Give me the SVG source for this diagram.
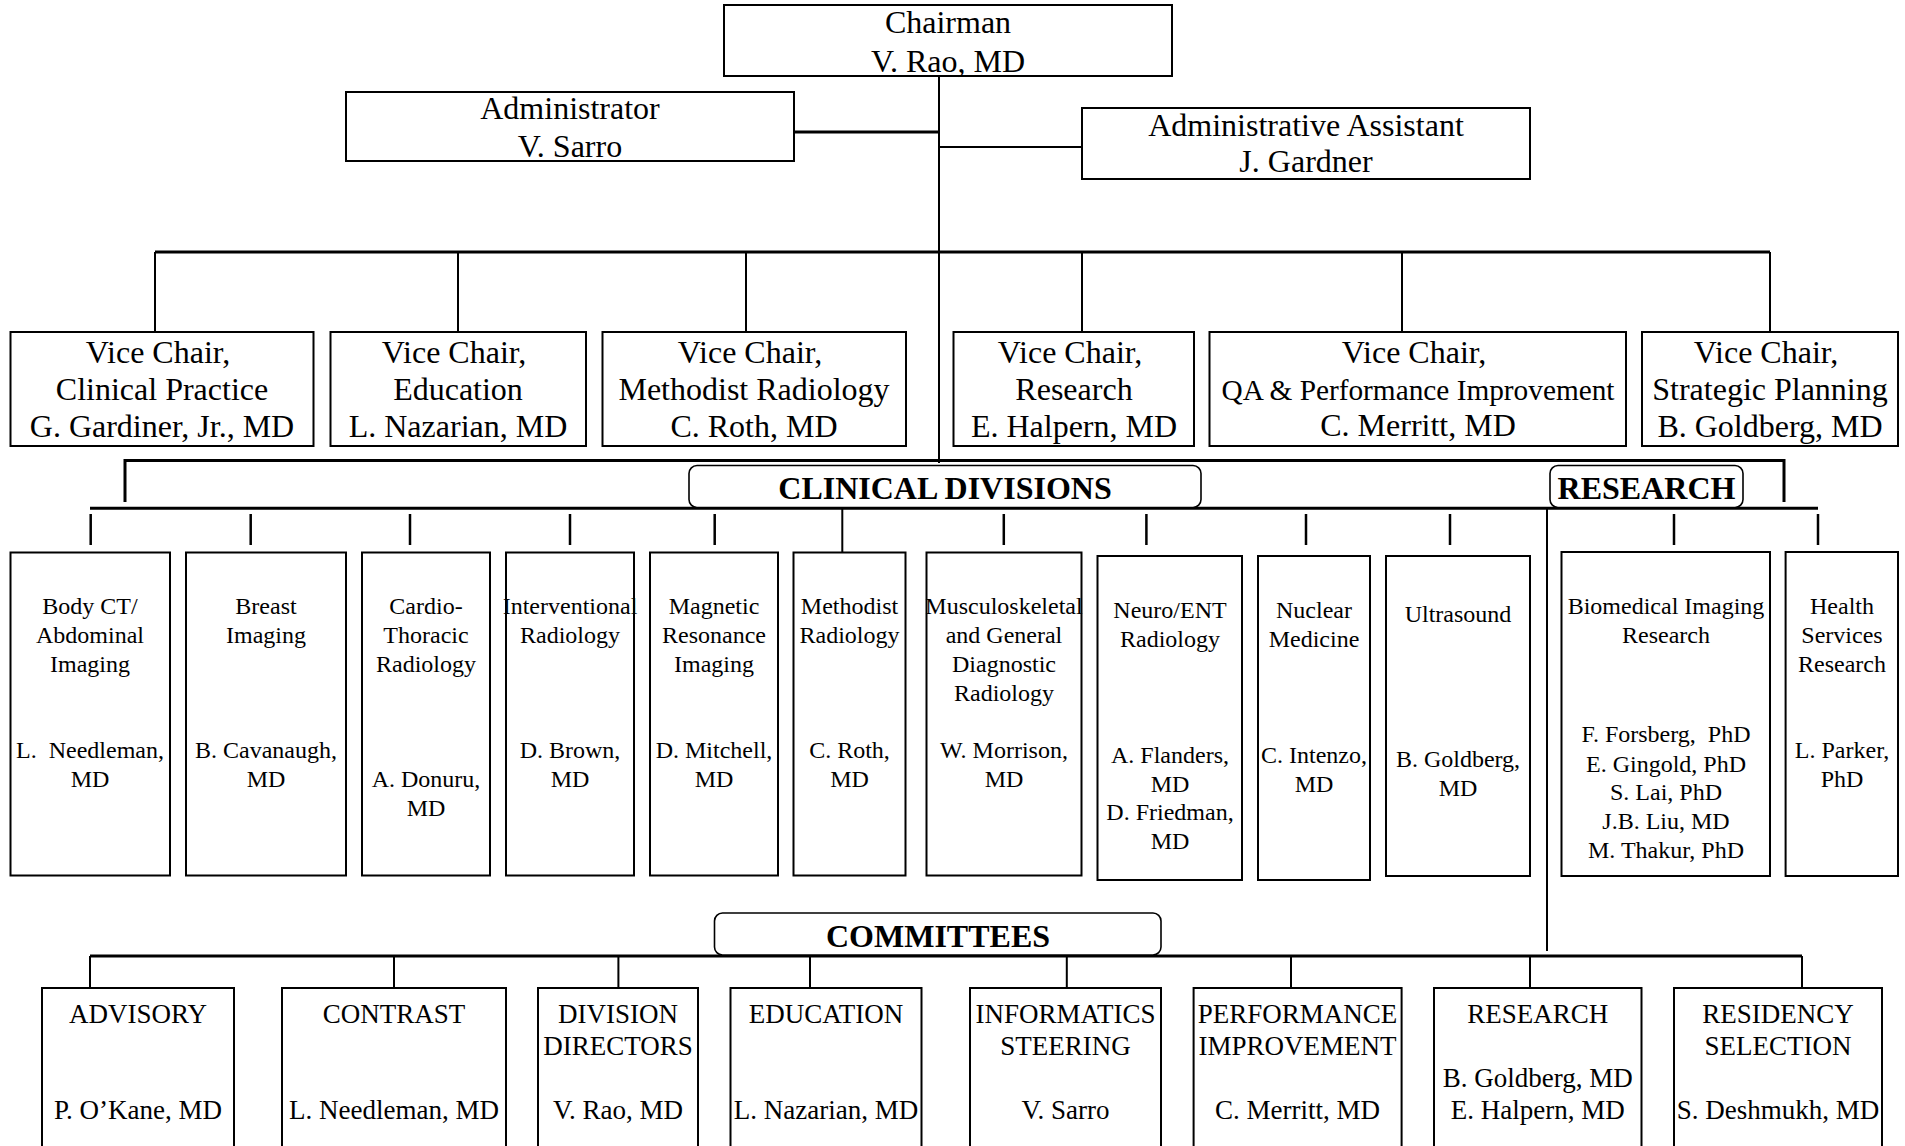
<svg xmlns="http://www.w3.org/2000/svg" width="1905" height="1146" viewBox="0 0 1905 1146">
<style>
.box{fill:#fff;stroke:#000;stroke-width:2}
.lbl{fill:#fff;stroke:#000;stroke-width:1.6}
.bus{stroke:#000;stroke-width:3;fill:none}
.ln{stroke:#000;stroke-width:2;fill:none}
.tk{stroke:#000;stroke-width:2.5;fill:none}
text{font-family:"Liberation Serif","Times New Roman",serif;text-anchor:middle;fill:#000;white-space:pre}
.t32{font-size:32px}
.t29{font-size:29.3px}
.t24{font-size:24px}
.t27{font-size:27px}
.b32{font-size:32px;font-weight:bold}
</style>
<rect width="1905" height="1146" fill="#fff"/>
<g id="connectors">
<path class="ln" d="M939 76V463"/>
<path class="bus" d="M794 132H939"/>
<path class="ln" d="M940 147H1082"/>
<path class="bus" d="M155 252H1770"/>
<path class="ln" d="M155 252V332M458 252V332M746 252V332M1082 252V332M1402 252V332M1770 252V332"/>
<path class="bus" d="M125 502V460.5H1784V502"/>
<path class="bus" d="M90 508.3H1818"/>
<path class="tk" d="M90.7 514V545M250.7 514V545M410 514V545M570 514V545M714.7 514V545M1003.8 514V545M1146.4 514V545M1306 514V545M1450 514V545M1674 514V545M1818 514V545"/>
<path class="ln" d="M842.3 508V552"/>
<path class="ln" d="M1547 508V951"/>
<path class="bus" d="M90 956H1802"/>
<path class="ln" d="M90 956V988M394 956V988M618.4 956V988M810 956V988M1066.8 956V988M1291 956V988M1530 956V988M1802 956V988"/>
</g>
<g id="chairman"><rect class="box" x="724" y="5" width="448" height="71"/><text class="t32" x="948" y="33">Chairman</text><text class="t32" x="948" y="72">V. Rao, MD</text></g>
<g id="administrator"><rect class="box" x="346" y="92" width="448" height="69"/><text class="t32" x="570" y="119">Administrator</text><text class="t32" x="570" y="157">V. Sarro</text></g>
<g id="admin-assistant"><rect class="box" x="1082" y="108" width="448" height="71"/><text class="t32" x="1306" y="136">Administrative Assistant</text><text class="t32" x="1306" y="172">J. Gardner</text></g>
<g id="vc-clinical"><rect class="box" x="10.5" y="332" width="303" height="114"/><text class="t32" x="158" y="363">Vice Chair,</text><text class="t32" x="162" y="400">Clinical Practice</text><text class="t32" x="162" y="437">G. Gardiner, Jr., MD</text></g>
<g id="vc-education"><rect class="box" x="330.5" y="332" width="255.5" height="114"/><text class="t32" x="454" y="363">Vice Chair,</text><text class="t32" x="458" y="400">Education</text><text class="t32" x="458" y="437">L. Nazarian, MD</text></g>
<g id="vc-methodist"><rect class="box" x="602.5" y="332" width="303.5" height="114"/><text class="t32" x="750" y="363">Vice Chair,</text><text class="t32" x="754" y="400">Methodist Radiology</text><text class="t32" x="754" y="437">C. Roth, MD</text></g>
<g id="vc-research"><rect class="box" x="953.5" y="332" width="240.5" height="114"/><text class="t32" x="1070" y="363">Vice Chair,</text><text class="t32" x="1074" y="400">Research</text><text class="t32" x="1074" y="437">E. Halpern, MD</text></g>
<g id="vc-qa"><rect class="box" x="1209.5" y="332" width="416.5" height="114"/><text class="t32" x="1414" y="363">Vice Chair,</text><text class="t29" x="1418" y="400">QA &amp; Performance Improvement</text><text class="t32" x="1418" y="436">C. Merritt, MD</text></g>
<g id="vc-strategic"><rect class="box" x="1642" y="332" width="256" height="114"/><text class="t32" x="1766" y="363">Vice Chair,</text><text class="t32" x="1770" y="400">Strategic Planning</text><text class="t32" x="1770" y="437">B. Goldberg, MD</text></g>
<g id="clinical-divisions-label"><rect class="lbl" x="689" y="465.5" width="512" height="42" rx="8"/><text class="b32" x="945" y="499">CLINICAL DIVISIONS</text></g>
<g id="research-label"><rect class="lbl" x="1550" y="465.5" width="193" height="42" rx="8"/><text class="b32" x="1646.5" y="499">RESEARCH</text></g>
<g id="body-ct"><rect class="box" x="10.5" y="552.5" width="159.5" height="323"/><text class="t24" x="90" y="613.5">Body CT/</text><text class="t24" x="90" y="642.7">Abdominal</text><text class="t24" x="90" y="672">Imaging</text><text class="t24" x="90" y="758">L.  Needleman,</text><text class="t24" x="90" y="787">MD</text></g>
<g id="breast"><rect class="box" x="186" y="552.5" width="160" height="323"/><text class="t24" x="266" y="613.5">Breast</text><text class="t24" x="266" y="642.7">Imaging</text><text class="t24" x="266" y="758">B. Cavanaugh,</text><text class="t24" x="266" y="787">MD</text></g>
<g id="cardio"><rect class="box" x="362" y="552.5" width="128" height="323"/><text class="t24" x="426" y="613.5">Cardio-</text><text class="t24" x="426" y="642.7">Thoracic</text><text class="t24" x="426" y="672">Radiology</text><text class="t24" x="426" y="787">A. Donuru,</text><text class="t24" x="426" y="816">MD</text></g>
<g id="interventional"><rect class="box" x="506" y="552.5" width="128" height="323"/><text class="t24" x="570" y="613.5">Interventional</text><text class="t24" x="570" y="642.7">Radiology</text><text class="t24" x="570" y="758">D. Brown,</text><text class="t24" x="570" y="787">MD</text></g>
<g id="mri"><rect class="box" x="650" y="552.5" width="128" height="323"/><text class="t24" x="714" y="613.5">Magnetic</text><text class="t24" x="714" y="642.7">Resonance</text><text class="t24" x="714" y="672">Imaging</text><text class="t24" x="714" y="758">D. Mitchell,</text><text class="t24" x="714" y="787">MD</text></g>
<g id="methodist"><rect class="box" x="793.5" y="552.5" width="112" height="323"/><text class="t24" x="849.5" y="613.5">Methodist</text><text class="t24" x="849.5" y="642.7">Radiology</text><text class="t24" x="849.5" y="758">C. Roth,</text><text class="t24" x="849.5" y="787">MD</text></g>
<g id="msk"><rect class="box" x="926.5" y="552.5" width="155" height="323"/><text class="t24" x="1004" y="613.5">Musculoskeletal</text><text class="t24" x="1004" y="642.7">and General</text><text class="t24" x="1004" y="672">Diagnostic</text><text class="t24" x="1004" y="701">Radiology</text><text class="t24" x="1004" y="758">W. Morrison,</text><text class="t24" x="1004" y="787">MD</text></g>
<g id="neuro"><rect class="box" x="1097.5" y="556" width="144.5" height="324"/><text class="t24" x="1170" y="618.4">Neuro/ENT</text><text class="t24" x="1170" y="647">Radiology</text><text class="t24" x="1170" y="763">A. Flanders,</text><text class="t24" x="1170" y="792">MD</text><text class="t24" x="1170" y="820">D. Friedman,</text><text class="t24" x="1170" y="849">MD</text></g>
<g id="nuclear"><rect class="box" x="1258" y="556" width="112" height="324"/><text class="t24" x="1314" y="618.4">Nuclear</text><text class="t24" x="1314" y="647">Medicine</text><text class="t24" x="1314" y="763">C. Intenzo,</text><text class="t24" x="1314" y="792">MD</text></g>
<g id="ultrasound"><rect class="box" x="1386" y="556" width="144" height="320"/><text class="t24" x="1458" y="622">Ultrasound</text><text class="t24" x="1458" y="766.5">B. Goldberg,</text><text class="t24" x="1458" y="795.5">MD</text></g>
<g id="biomedical"><rect class="box" x="1561.5" y="552" width="208.5" height="324"/><text class="t24" x="1666" y="613.5">Biomedical Imaging</text><text class="t24" x="1666" y="642.7">Research</text><text class="t24" x="1666" y="742.3">F. Forsberg,  PhD</text><text class="t24" x="1666" y="771.5">E. Gingold, PhD</text><text class="t24" x="1666" y="799.5">S. Lai, PhD</text><text class="t24" x="1666" y="828.6">J.B. Liu, MD</text><text class="t24" x="1666" y="857.7">M. Thakur, PhD</text></g>
<g id="health-services"><rect class="box" x="1785.6" y="552" width="112.4" height="324"/><text class="t24" x="1842" y="613.5">Health</text><text class="t24" x="1842" y="642.7">Services</text><text class="t24" x="1842" y="672">Research</text><text class="t24" x="1842" y="758">L. Parker,</text><text class="t24" x="1842" y="787">PhD</text></g>
<g id="committees-label"><rect class="lbl" x="714.5" y="913" width="446.5" height="42" rx="8"/><text class="b32" x="938" y="947">COMMITTEES</text></g>
<g id="advisory"><rect class="box" x="42" y="988" width="192" height="170"/><text class="t27" x="138" y="1023">ADVISORY</text><text class="t27" x="138" y="1119">P. O’Kane, MD</text></g>
<g id="contrast"><rect class="box" x="282" y="988" width="224" height="170"/><text class="t27" x="394" y="1023">CONTRAST</text><text class="t27" x="394" y="1119">L. Needleman, MD</text></g>
<g id="division-directors"><rect class="box" x="538" y="988" width="160" height="170"/><text class="t27" x="618" y="1023">DIVISION</text><text class="t27" x="618" y="1055">DIRECTORS</text><text class="t27" x="618" y="1119">V. Rao, MD</text></g>
<g id="education"><rect class="box" x="730.5" y="988" width="191" height="170"/><text class="t27" x="826" y="1023">EDUCATION</text><text class="t27" x="826" y="1119">L. Nazarian, MD</text></g>
<g id="informatics"><rect class="box" x="970" y="988" width="191" height="170"/><text class="t27" x="1065.5" y="1023">INFORMATICS</text><text class="t27" x="1065.5" y="1055">STEERING</text><text class="t27" x="1065.5" y="1119">V. Sarro</text></g>
<g id="performance"><rect class="box" x="1193.6" y="988" width="208" height="170"/><text class="t27" x="1297.6" y="1023">PERFORMANCE</text><text class="t27" x="1297.6" y="1055">IMPROVEMENT</text><text class="t27" x="1297.6" y="1119">C. Merritt, MD</text></g>
<g id="research-committee"><rect class="box" x="1434" y="988" width="207.5" height="170"/><text class="t27" x="1537.8" y="1023">RESEARCH</text><text class="t27" x="1537.8" y="1087">B. Goldberg, MD</text><text class="t27" x="1537.8" y="1119">E. Halpern, MD</text></g>
<g id="residency"><rect class="box" x="1674" y="988" width="208" height="170"/><text class="t27" x="1778" y="1023">RESIDENCY</text><text class="t27" x="1778" y="1055">SELECTION</text><text class="t27" x="1778" y="1119">S. Deshmukh, MD</text></g>
</svg>
